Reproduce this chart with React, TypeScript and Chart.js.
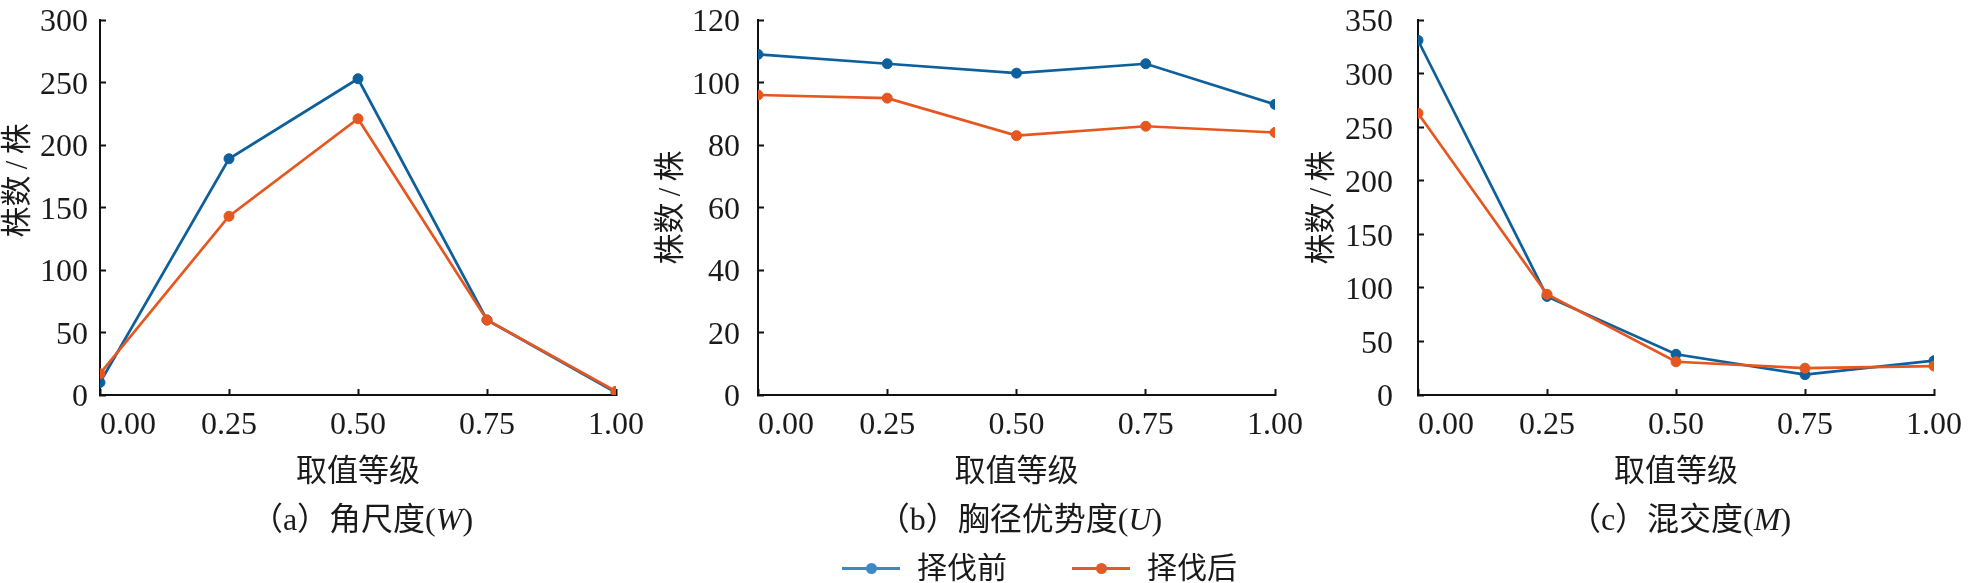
import React, { useEffect, useRef } from "react";
import { Chart, registerables } from "chart.js";

Chart.register(...registerables);

// ---- data ----
const levels = [0, 0.25, 0.5, 0.75, 1];
const xTicks = ["0.00", "0.25", "0.50", "0.75", "1.00"];

const wBefore = [10, 189, 253, 60, 2];
const wAfter = [17, 143, 221, 60, 3];

const uBefore = [109, 106, 103, 106, 93];
const uAfter = [96, 95, 83, 86, 84];

const mBefore = [331, 92, 38, 19, 32];
const mAfter = [263, 94, 31, 25, 27];

const seriesNames = ["择伐前", "择伐后"];
const xTitle = "取值等级";
const yTitle = "株数\u2009/\u2009株";

const yMax = [300, 120, 350];
const yStep = [50, 20, 50];

// ---- styles ----
const BLUE = "#0d609c";
const ORANGE = "#e6571f";
const BLUE_LEG = "#3f88c5";
const ORANGE_LEG = "#e15b28";
const FONT = "'Liberation Serif', 'Noto Sans CJK SC', serif";
const TXT = "#1a1a1a";

type PanelProps = {
  left: number;
  width: number;
  yWidth: number;
  padRight: number;
  labelPad: number;
  titleLead: number;
  before: number[];
  after: number[];
  max: number;
  step: number;
};

function Panel(p: PanelProps) {
  const ref = useRef<HTMLCanvasElement | null>(null);
  useEffect(() => {
    if (!ref.current) return;
    const mk = (vals: number[]) => levels.map((x, i) => ({ x, y: vals[i] }));
    const chart = new Chart(ref.current, {
      type: "line",
      data: {
        datasets: [
          {
            label: seriesNames[0],
            data: mk(p.before),
            borderColor: BLUE,
            backgroundColor: BLUE,
            pointBackgroundColor: BLUE,
            pointBorderColor: BLUE,
            borderWidth: 2.7,
            pointRadius: 5,
            pointBorderWidth: 1,
            order: 1,
          },
          {
            label: seriesNames[1],
            data: mk(p.after),
            borderColor: ORANGE,
            backgroundColor: ORANGE,
            pointBackgroundColor: ORANGE,
            pointBorderColor: ORANGE,
            borderWidth: 2.7,
            pointRadius: 5,
            pointBorderWidth: 1,
            order: 0,
          },
        ],
      },
      options: {
        animation: false,
        responsive: false,
        maintainAspectRatio: false,
        layout: { autoPadding: false, padding: { left: 0, right: p.padRight, top: 20, bottom: 0 } },
        plugins: { legend: { display: false }, tooltip: { enabled: false } },
        scales: {
          x: {
            type: "linear",
            min: 0,
            max: 1,
            afterFit: (s: any) => {
              s.height = 188;
              s.paddingLeft = 0;
              s.paddingRight = 0;
            },
            afterBuildTicks: (s: any) => {
              s.ticks = levels.map((v) => ({ value: v }));
            },
            ticks: {
              stepSize: 0.25,
              autoSkip: false,
              maxRotation: 0,
              color: TXT,
              padding: 17,
              font: { family: FONT, size: 32 },
              callback: (v: any) => {
                const i = levels.indexOf(Number(v));
                const t = i >= 0 ? xTicks[i] : "";
                return i === 0 ? "       " + t : t;
              },
            },
            grid: {
              display: true,
              drawOnChartArea: false,
              drawTicks: true,
              tickLength: -6,
              tickWidth: 2,
              tickColor: "#111",
            },
            border: { display: true, color: "#111", width: 2 },
            title: {
              display: true,
              text: xTitle,
              color: TXT,
              font: { family: FONT, size: 31 },
              padding: { top: 0, bottom: 92 },
            },
          },
          y: {
            type: "linear",
            min: 0,
            max: p.max,
            afterFit: (s: any) => {
              s.width = p.yWidth;
              s.paddingTop = 0;
              s.paddingBottom = 0;
            },
            ticks: {
              stepSize: p.step,
              color: TXT,
              padding: p.labelPad,
              labelOffset: 3,
              font: { family: FONT, size: 32 },
            },
            grid: {
              display: true,
              drawOnChartArea: false,
              drawTicks: true,
              tickLength: -6,
              tickWidth: 2,
              tickColor: "#111",
            },
            border: { display: true, color: "#111", width: 2 },
            title: {
              display: true,
              text: " ".repeat(p.titleLead) + yTitle,
              color: TXT,
              font: { family: FONT, size: 31 },
              padding: { top: 0, bottom: 0 },
            },
          },
        },
      },
    } as any);
    return () => chart.destroy();
  }, []);
  return (
    <canvas
      ref={ref}
      width={p.width}
      height={583}
      style={{ position: "absolute", left: p.left, top: 0, width: p.width, height: 583 }}
    />
  );
}

const captionStyle = (center: number): React.CSSProperties => ({
  position: "absolute",
  left: center - 250,
  width: 500,
  top: 501,
  height: 36,
  lineHeight: "36px",
  textAlign: "center",
  fontFamily: FONT,
  fontSize: 32,
  color: TXT,
  whiteSpace: "nowrap",
});

function LegendItem({ x, color, text }: { x: number; color: string; text: string }) {
  return (
    <>
      <div
        style={{
          position: "absolute",
          left: x,
          top: 567,
          width: 58,
          height: 2.5,
          background: color,
        }}
      />
      <div
        style={{
          position: "absolute",
          left: x + 29 - 5.5,
          top: 568 - 5.5,
          width: 11,
          height: 11,
          borderRadius: "50%",
          background: color,
        }}
      />
      <div
        style={{
          position: "absolute",
          left: x + 75,
          top: 550,
          height: 36,
          lineHeight: "36px",
          fontFamily: FONT,
          fontSize: 30,
          color: TXT,
          whiteSpace: "nowrap",
        }}
      >
        {text}
      </div>
    </>
  );
}

export default function App() {
  return (
    <div
      style={{
        position: "fixed",
        left: 0,
        top: 0,
        width: 1972,
        height: 583,
        background: "#fff",
        overflow: "hidden",
      }}
    >
      <Panel left={0} width={660} yWidth={100} padRight={44} labelPad={18} titleLead={7} before={wBefore} after={wAfter} max={yMax[0]} step={yStep[0]} />
      <Panel left={653} width={657} yWidth={105} padRight={35} labelPad={24} titleLead={0} before={uBefore} after={uAfter} max={yMax[1]} step={yStep[1]} />
      <Panel left={1304} width={668} yWidth={114} padRight={38} labelPad={31} titleLead={0} before={mBefore} after={mAfter} max={yMax[2]} step={yStep[2]} />

      <div style={captionStyle(362)}>
        （a）角尺度(<i>W</i>)
      </div>
      <div style={captionStyle(1020)}>
        （b）胸径优势度(<i>U</i>)
      </div>
      <div style={captionStyle(1680)}>
        （c）混交度(<i>M</i>)
      </div>

      <LegendItem x={842} color={BLUE_LEG} text={seriesNames[0]} />
      <LegendItem x={1072} color={ORANGE_LEG} text={seriesNames[1]} />
    </div>
  );
}
